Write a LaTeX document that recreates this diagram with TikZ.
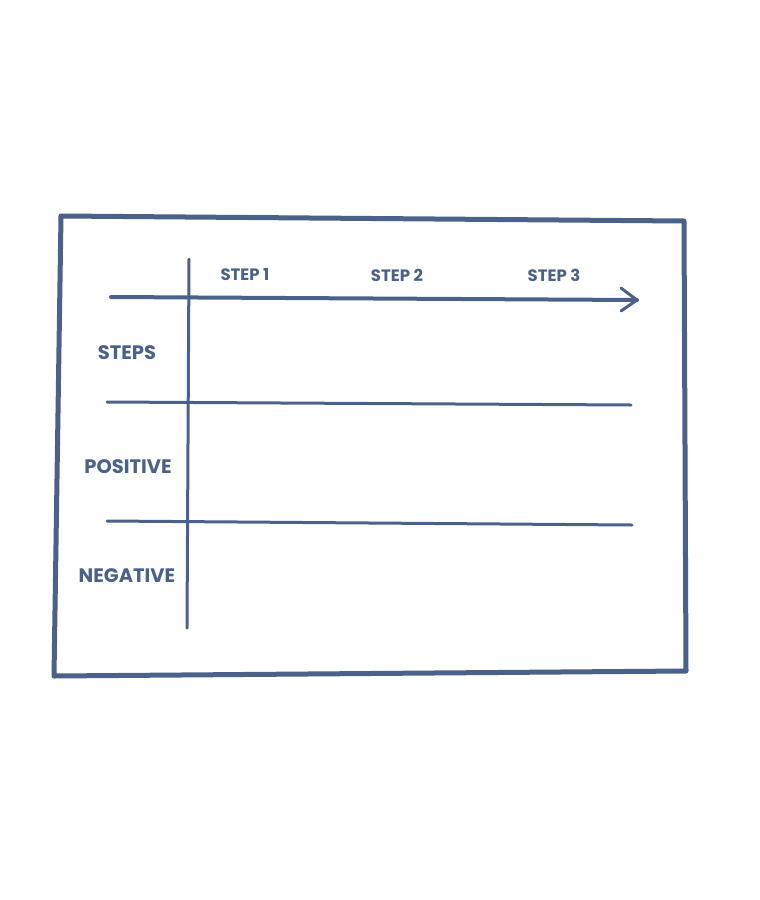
\documentclass[tikz,border=0pt]{standalone}
\usepackage{fontspec}
\setmainfont{Poppins}
\definecolor{ink}{HTML}{4A6189}
\begin{document}
\begin{tikzpicture}[x=1pt,y=-1pt,
  inkline/.style={draw=ink,line cap=round,line join=round},
  frameline/.style={inkline,line width=5pt},
  gridline/.style={inkline,line width=3pt},
  headlabel/.style={text=ink,font=\fontsize{16.5}{18}\selectfont\bfseries,inner sep=0pt},
  rowlabel/.style={text=ink,font=\fontsize{19.5}{21}\selectfont\bfseries,inner sep=0pt}]
\useasboundingbox (0,0) rectangle (760,900);
\fill[white] (0,0) rectangle (760,900);
% frame
\coordinate (tl) at (61,216);
\coordinate (tr) at (684,221);
\coordinate (br) at (686,671);
\coordinate (bl) at (54,676);
\draw[frameline] (tl) -- (tr) -- (br) -- (bl) -- cycle;
% grid
\coordinate (vt) at (189,259);
\coordinate (vb) at (187,628);
\draw[gridline] (vt) -- (vb);
\coordinate (a0) at (111,297);
\coordinate (a1) at (637,300);
\draw[inkline,line width=4pt] (a0) -- (a1);
\coordinate (h1) at (621,288);
\coordinate (h2) at (621,311);
\draw[inkline,line width=3pt] (h1) -- (a1) -- (h2);
\coordinate (l1a) at (107,402);
\coordinate (l1b) at (631,405);
\draw[gridline] (l1a) -- (l1b);
\coordinate (l2a) at (107,521);
\coordinate (l2b) at (632,525);
\draw[gridline] (l2a) -- (l2b);
% labels
\node[headlabel] (s1) at (245,275) {STEP 1};
\node[headlabel] (s2) at (397,275) {STEP 2};
\node[headlabel] (s3) at (554,275) {STEP 3};
\node[rowlabel] (r1) at (127,353) {STEPS};
\node[rowlabel] (r2) at (128,467) {POSITIVE};
\node[rowlabel] (r3) at (127,576) {NEGATIVE};
\end{tikzpicture}
\end{document}
